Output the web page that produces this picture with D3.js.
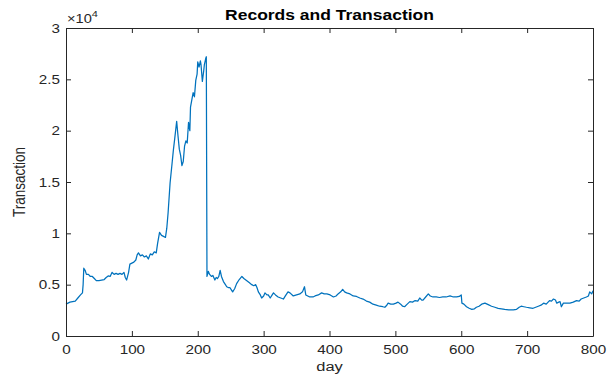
<!DOCTYPE html>
<html>
<head>
<meta charset="utf-8">
<script src="https://cdn.jsdelivr.net/npm/d3@7"></script>
<style>
  html, body { margin: 0; padding: 0; background: #fff; }
  svg { display: block; }
  text { font-family: "Liberation Sans", Arial, Helvetica, sans-serif; }
</style>
</head>
<body>
<svg id="chart" width="607" height="377"></svg>
<script>
// Daily transaction counts
const days = [0,3,6,10,14,18,22,25,26,27,29,31,34,37,40,43,46,50,54,58,61,64,67,70,73,76,79,82,85,88,90,92,95,97,100,103,106,108,110,113,116,119,122,125,128,131,134,137,139,142,145,148,151,153,155,158,161,163,165,168,170,172,174,176,178,180,182,184,186,188,189,191,193,195,197,199,200,202,204,205,207,209,210,212,213,214,216,218,221,223,226,228,230,232,234,236,239,242,244,247,249,251,253,256,259,263,267,270,274,278,282,285,288,290,292,295,297,300,302,305,307,310,313,315,318,322,326,330,333,337,340,345,350,355,359,362,364,367,370,375,378,383,388,392,396,401,406,410,413,417,420,423,426,431,436,441,446,451,456,461,466,471,476,481,484,487,489,493,497,501,504,508,511,514,518,522,526,530,534,537,540,542,546,550,553,557,562,567,572,577,583,588,593,597,600,601,604,608,612,616,620,623,627,631,636,641,646,651,656,661,666,672,679,684,688,691,695,699,704,709,713,717,721,725,729,734,737,740,743,745,748,750,752,755,760,765,770,775,779,782,786,790,793,795,798,800];
const transactions = [3100,3200,3300,3350,3400,3700,4000,4200,5000,6600,6400,6000,6000,5800,5800,5600,5400,5400,5450,5500,5700,5850,5800,6200,6000,6100,6000,6100,6000,6200,5700,5450,6200,7000,7100,7200,7400,7900,8100,7800,7900,7700,7800,7500,8000,7900,8200,8100,9000,10100,9800,9700,9600,10500,12000,14900,16800,18100,19200,20900,19500,18200,17600,16600,17000,18500,19000,18800,20800,20000,22300,23000,23700,23300,24900,25500,26700,26200,26800,26400,24800,25800,26400,27000,27200,5800,6300,6000,5800,5900,5450,5700,5600,5800,6400,5800,5300,5000,4800,4700,4700,4500,4300,4600,5100,5500,5800,5600,5400,5200,5000,4900,5000,4700,4300,4000,3700,3900,4200,4000,4000,3700,4000,4200,4000,3800,3700,3600,3900,4300,4200,3900,4000,4100,4300,4800,4000,3900,3800,3800,3900,4000,4200,4100,4100,4000,3800,3900,4100,4300,4550,4300,4200,4100,3900,3850,3700,3600,3400,3300,3100,3000,2900,2850,2800,3000,3200,3100,3100,3200,3300,3100,2900,2850,3100,3350,3300,3450,3400,3700,3500,3500,3800,4100,3900,3800,3800,3750,3800,3800,3900,3800,3800,3850,4000,3200,3100,2850,2700,2600,2650,2800,2900,3100,3200,3050,2900,2800,2700,2650,2600,2550,2550,2600,2800,2900,2850,2800,2750,2700,2800,2900,3000,3200,3100,3450,3400,3600,3500,3200,3300,3350,2850,3200,3200,3200,3300,3450,3400,3600,3700,3800,3900,4300,4100,4400];

const xTicks = [0,100,200,300,400,500,600,700,800];
const yTicks = [0,5000,10000,15000,20000,25000,30000];
const exponent = 4;

const title = "Records and Transaction";
const xLabel = "day";
const yLabel = "Transaction";

const W = 607, H = 377;
const margin = { left: 66, right: 14, top: 28, bottom: 41 };
const stretch = 1.22;          // horizontal widening of all lettering
const axisColor = "#262626";
const lineColor = "#0072BD";

const svg = d3.select("#chart");
const x = d3.scaleLinear().domain([0, 800]).range([margin.left, W - margin.right]);
const y = d3.scaleLinear().domain([0, 30000]).range([H - margin.bottom, margin.top]);
const fmt = v => d3.format("~g")(v / Math.pow(10, exponent));

// data line
const data = days.map((d, i) => ({ day: d, value: transactions[i] }));
svg.append("path")
  .datum(data)
  .attr("fill", "none")
  .attr("stroke", lineColor)
  .attr("stroke-width", 1.25)
  .attr("stroke-linejoin", "round")
  .attr("d", d3.line().x(d => x(d.day)).y(d => y(d.value)));

// axes with inward ticks on all four sides
const tk = 5;
const gB = svg.append("g").attr("transform", `translate(0,${y(0)})`)
  .call(d3.axisBottom(x).tickValues(xTicks).tickSizeInner(-tk).tickSizeOuter(0).tickPadding(9).tickFormat(d3.format("d")));
const gL = svg.append("g").attr("transform", `translate(${x(0)},0)`)
  .call(d3.axisLeft(y).tickValues(yTicks).tickSizeInner(-tk).tickSizeOuter(0).tickPadding(6).tickFormat(fmt));
const gT = svg.append("g").attr("transform", `translate(0,${y(30000)})`)
  .call(d3.axisTop(x).tickValues(xTicks).tickSizeInner(-tk).tickSizeOuter(0).tickFormat(""));
const gR = svg.append("g").attr("transform", `translate(${x(800)},0)`)
  .call(d3.axisRight(y).tickValues(yTicks).tickSizeInner(-tk).tickSizeOuter(0).tickFormat(""));

[gB, gL, gT, gR].forEach(g => {
  g.selectAll("path.domain").attr("stroke", axisColor).attr("stroke-width", 1);
  g.selectAll(".tick line").attr("stroke", axisColor).attr("stroke-width", 1);
  g.selectAll(".tick text").attr("fill", axisColor)
    .style("font-size", "12.5px").style("font-family", "'Liberation Sans', Arial, sans-serif");
});
gB.selectAll(".tick text").attr("transform", `scale(${stretch},1)`);
gL.selectAll(".tick text").attr("x", -6 / stretch).attr("transform", `scale(${stretch},1)`);

// exponent marker above the y axis
const ex = svg.append("text")
  .attr("transform", `translate(${x(0) + 1},${y(30000) - 5}) scale(${stretch},1)`)
  .attr("fill", axisColor).style("font-size", "12px");
ex.append("tspan").text("\u00d710");
ex.append("tspan").attr("dy", -6).style("font-size", "9px").text(String(exponent));

// title
svg.append("text")
  .attr("transform", `translate(${(x(0) + x(800)) / 2},${y(30000) - 8}) scale(1.25,1)`)
  .attr("text-anchor", "middle")
  .attr("fill", "#000")
  .style("font-size", "14px").style("font-weight", "bold")
  .text(title);

// axis labels
svg.append("text")
  .attr("transform", `translate(${(x(0) + x(800)) / 2},${H - 6}) scale(${stretch},1)`)
  .attr("text-anchor", "middle")
  .attr("fill", axisColor)
  .style("font-size", "13.5px")
  .text(xLabel);

svg.append("text")
  .attr("transform", `translate(25,${(y(0) + y(30000)) / 2}) rotate(-90) scale(1,${stretch})`)
  .attr("text-anchor", "middle")
  .attr("fill", axisColor)
  .style("font-size", "13.5px")
  .text(yLabel);
</script>
</body>
</html>
